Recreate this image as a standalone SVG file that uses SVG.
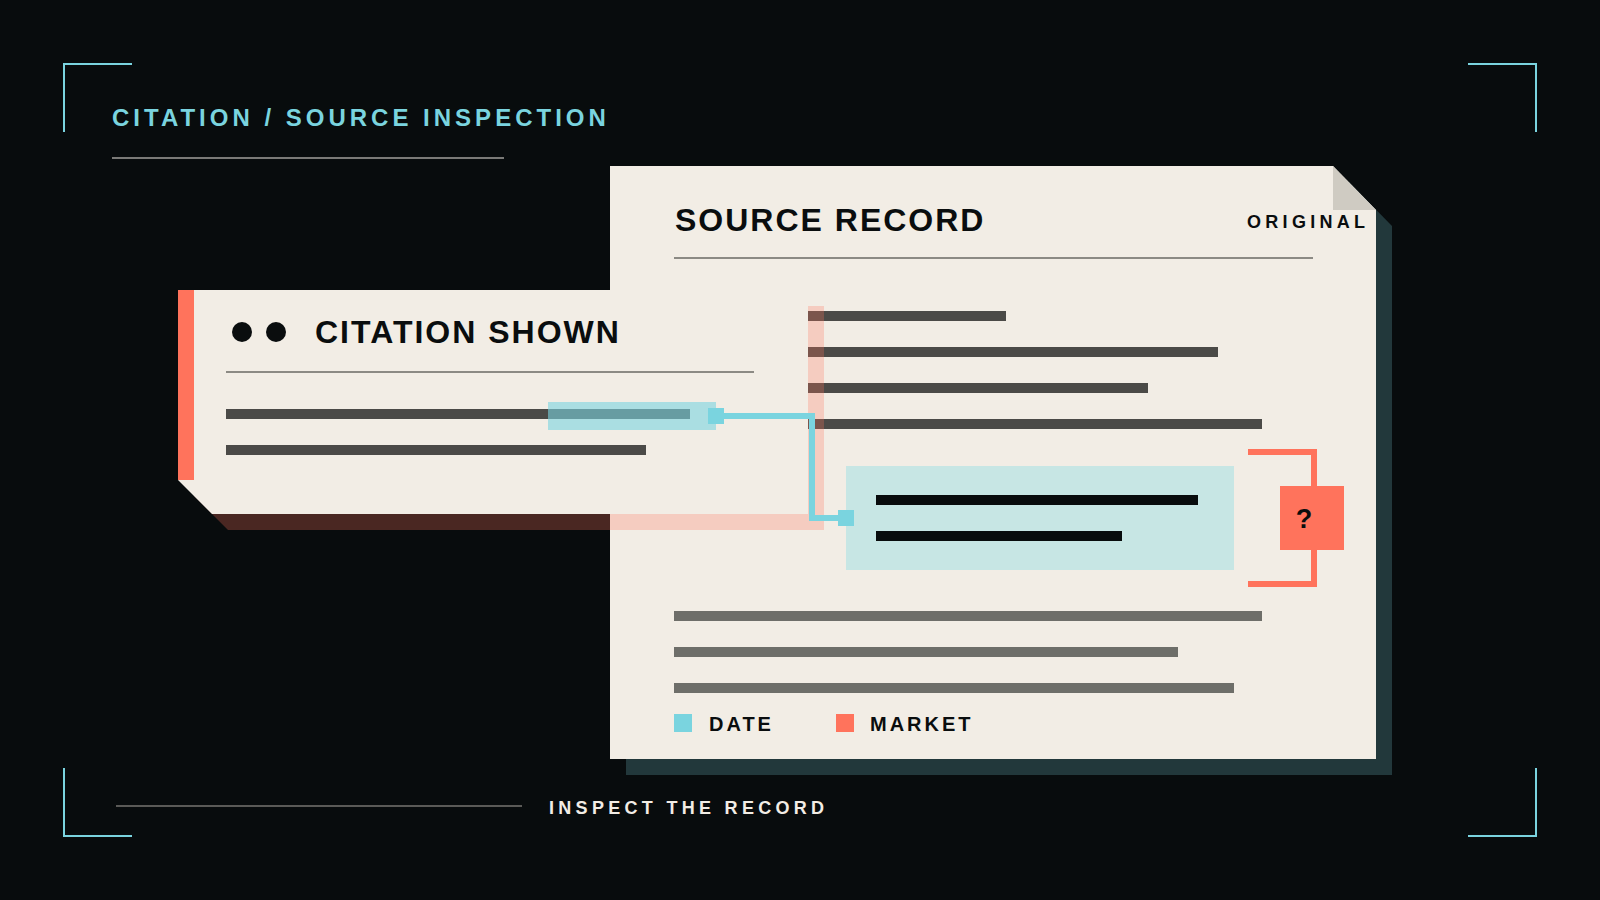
<svg xmlns="http://www.w3.org/2000/svg" width="1600" height="900" viewBox="0 0 1600 900">
  <style>
    .frame { fill: none; stroke: #7AD4DF; stroke-width: 2; }
    .rule { stroke: #8C8A84; stroke-width: 2; }
    .bar { fill: #4B4A47; }
    .bar2 { fill: #6E6E69; }
    .ink { fill: #080C0D; }
    .cream { fill: #F2EDE5; }
    .t { font-family: "Liberation Sans", Arial, sans-serif; font-weight: bold; }
  </style>
  <rect width="1600" height="900" fill="#080C0D"/>

  <g id="frame">
    <path class="frame" d="M64,132 V64 H132"/>
    <path class="frame" d="M1468,64 H1536 V132"/>
    <path class="frame" d="M64,768 V836 H132"/>
    <path class="frame" d="M1536,768 V836 H1468"/>
  </g>

  <g id="title">
    <text class="t" x="112" y="126" font-size="24" letter-spacing="4" fill="#7AD4DF">CITATION / SOURCE INSPECTION</text>
    <line x1="112" y1="158" x2="504" y2="158" stroke="#7A7A77" stroke-width="2"/>
  </g>

  <g id="source-record">
    <polygon points="626,182 1349,182 1392,226 1392,775 626,775" fill="#22383B"/>
    <polygon class="cream" points="610,166 1333,166 1376,210 1376,759 610,759"/>
    <polygon points="1333,166 1333,210 1376,210" fill="#CFCBC2"/>
    <text class="t" x="675" y="231" font-size="32" letter-spacing="2" fill="#0A0D0E">SOURCE RECORD</text>
    <text class="t" x="1247" y="228" font-size="18" letter-spacing="4.3" fill="#0A0D0E">ORIGINAL</text>
    <line class="rule" x1="674" y1="258" x2="1313" y2="258"/>
    <rect class="bar" x="808" y="311" width="198" height="10"/>
    <rect class="bar" x="808" y="347" width="410" height="10"/>
    <rect class="bar" x="808" y="383" width="340" height="10"/>
    <rect class="bar" x="808" y="419" width="454" height="10"/>
    <rect x="846" y="466" width="388" height="104" fill="#C7E6E4"/>
    <rect class="ink" x="876" y="495" width="322" height="10"/>
    <rect class="ink" x="876" y="531" width="246" height="10"/>
    <rect class="bar2" x="674" y="611" width="588" height="10"/>
    <rect class="bar2" x="674" y="647" width="504" height="10"/>
    <rect class="bar2" x="674" y="683" width="560" height="10"/>
    <rect x="674" y="714" width="18" height="18" fill="#7AD4DF"/>
    <text class="t" x="709" y="731" font-size="20" letter-spacing="3" fill="#0A0D0E">DATE</text>
    <rect x="836" y="714" width="18" height="18" fill="#FF735C"/>
    <text class="t" x="870" y="731" font-size="20" letter-spacing="3" fill="#0A0D0E">MARKET</text>
  </g>

  <g id="market-flag">
    <path d="M1248,452 H1314 V584 H1248" fill="none" stroke="#FF735C" stroke-width="6"/>
    <rect x="1280" y="486" width="64" height="64" fill="#FF735C"/>
    <text class="t" x="1304" y="528" font-size="27" text-anchor="middle" fill="#0A0D0E">?</text>
  </g>

  <g id="citation-shown">
    <polygon points="194,306 824,306 824,530 228,530 194,496" fill="#FF735C" fill-opacity="0.27"/>
    <polygon class="cream" points="178,290 808,290 808,514 212,514 178,480"/>
    <rect x="178" y="290" width="16" height="190" fill="#FF735C"/>
    <circle cx="242" cy="332" r="10" fill="#0A0D0E"/>
    <circle cx="276" cy="332" r="10" fill="#0A0D0E"/>
    <text class="t" x="315" y="343" font-size="32" letter-spacing="2" fill="#0A0D0E">CITATION SHOWN</text>
    <line class="rule" x1="226" y1="372" x2="754" y2="372"/>
    <rect class="bar" x="226" y="409" width="464" height="10"/>
    <rect class="bar" x="226" y="445" width="420" height="10"/>
    <rect x="548" y="402" width="168" height="28" fill="#7AD4DF" fill-opacity="0.6"/>
  </g>

  <g id="connectors">
    <path d="M716,416 H812 V518 H846" fill="none" stroke="#7AD4DF" stroke-width="6"/>
    <rect x="708" y="408" width="16" height="16" fill="#7AD4DF"/>
    <rect x="838" y="510" width="16" height="16" fill="#7AD4DF"/>
  </g>

  <g id="footer">
    <line x1="116" y1="806" x2="522" y2="806" stroke="#5A5A57" stroke-width="2"/>
    <text class="t" x="549" y="814" font-size="18" letter-spacing="4.3" fill="#F2EDE5">INSPECT THE RECORD</text>
  </g>
</svg>
